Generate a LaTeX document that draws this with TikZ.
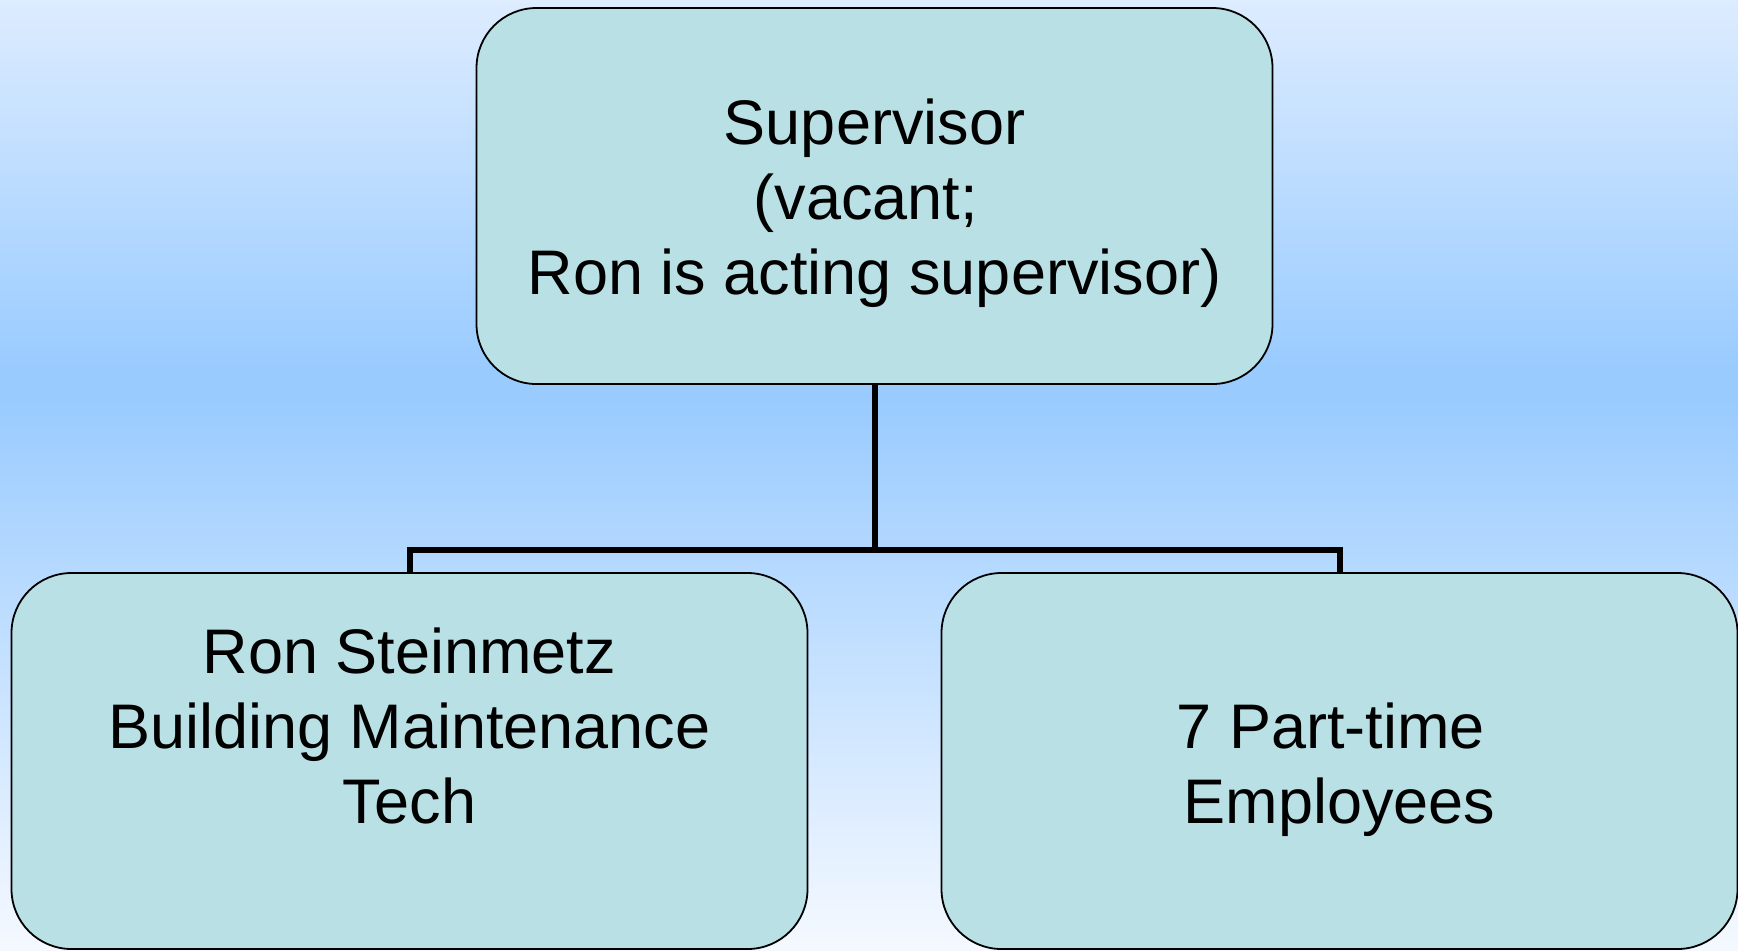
\documentclass[tikz,border=0pt]{standalone}
\usepackage{fontspec}
\setmainfont{Liberation Sans}
\definecolor{bgtop}{HTML}{DDECFF}
\definecolor{bgmid}{HTML}{99CBFF}
\definecolor{bgbot}{HTML}{F5F9FF}
\definecolor{boxfill}{HTML}{B9E0E4}
\begin{document}
\begin{tikzpicture}[x=0.5pt,y=-0.5pt,
  orgbox/.style={draw=black,line width=0.9pt,fill=boxfill,rounded corners=30pt,
    minimum width=398pt,minimum height=188pt,inner sep=0pt},
  lbl/.style={align=center,font=\fontsize{31.5pt}{37.5pt}\selectfont,inner sep=0pt},
  conn/.style={draw=black,line width=3pt,line join=miter}]
\useasboundingbox (0,0) rectangle (1738,950);
\shade[top color=bgtop,bottom color=bgmid] (0,0) rectangle (1738,370);
\fill[bgmid] (0,369) rectangle (1738,400);
\shade[top color=bgmid,bottom color=bgbot] (0,399) rectangle (1738,950);
\node[orgbox] (top) at (874.5,196) {};
\node[orgbox] (left) at (409.5,761) {};
\node[orgbox] (right) at (1339.5,761) {};
\coordinate (j) at (874.5,550);
\draw[conn] (top.south) -- (j);
\draw[conn] (left.north) |- (j) -| (right.north);
\node[lbl] (ttop) at (874.5,203.5) {Supervisor\\(vacant;\kern0.278em\\Ron is acting supervisor)};
\node[lbl] (tleft) at (409.5,725.5) {Ron Steinmetz\\Building Maintenance\\Tech};
\node[lbl] (tright) at (1339.5,770) {7 Part-time\kern0.278em\\Employees};
\end{tikzpicture}
\end{document}
